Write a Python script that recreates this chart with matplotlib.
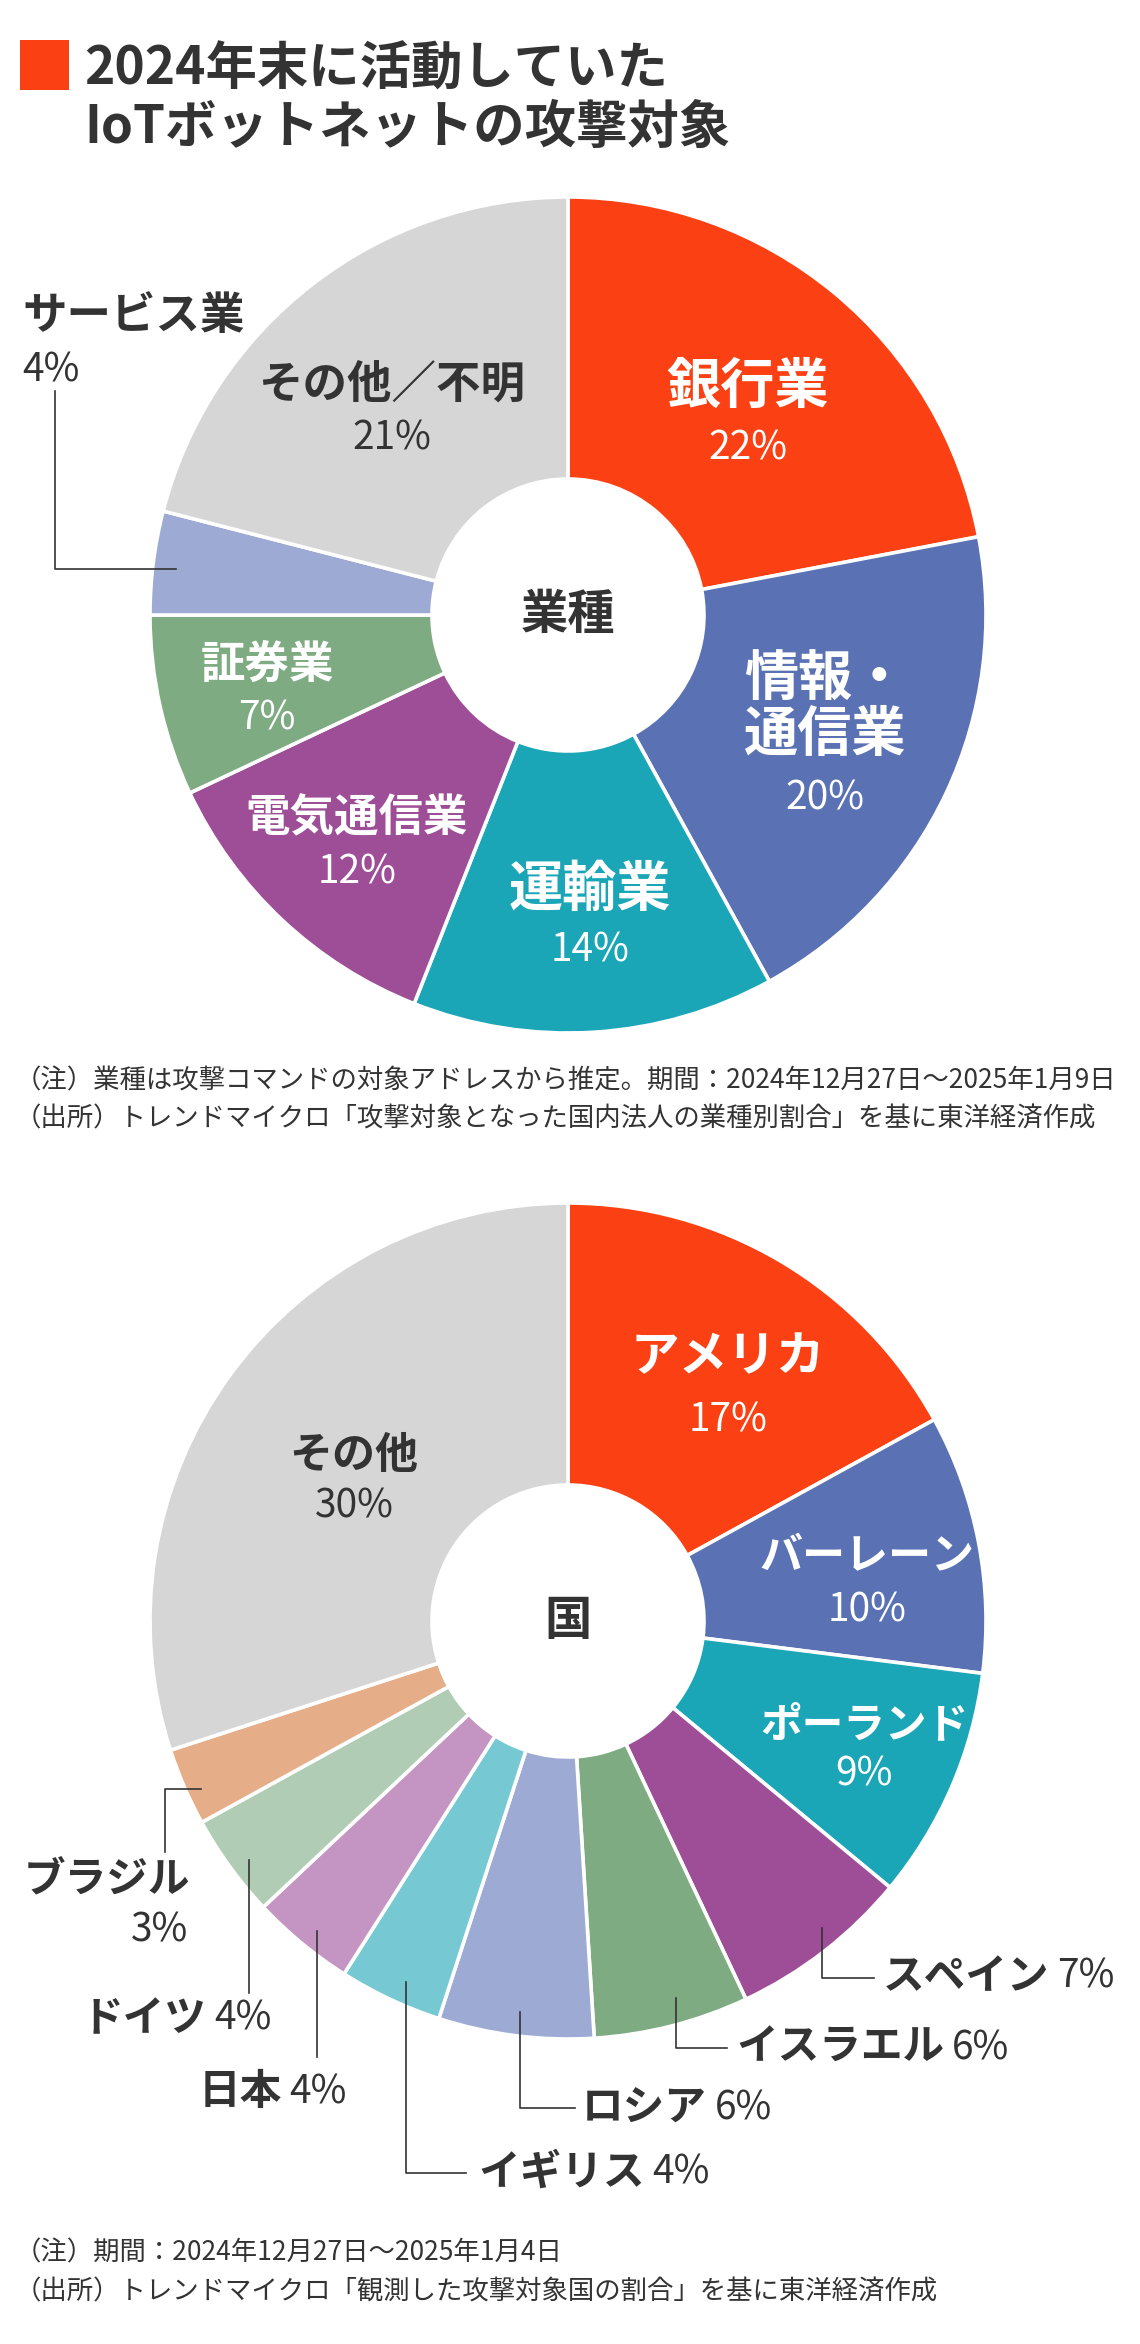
import matplotlib
matplotlib.use("Agg")
import matplotlib.pyplot as plt
from matplotlib.patches import Rectangle

plt.rcParams['font.family'] = ['Noto Sans CJK JP', 'DejaVu Sans']

W, H = 1140, 2344
DARK = '#333333'

# 業種データ
industry_names = ['銀行業', '情報・\n通信業', '運輸業', '電気通信業', '証券業', 'サービス業', 'その他／不明']
industry_share = [22, 20, 14, 12, 7, 4, 21]
industry_colors = ['#FB4113', '#5A71B4', '#1AA6B7', '#9D4E96', '#7EAB82', '#9DAAD3', '#D6D6D6']

# 国データ
country_names = ['アメリカ', 'バーレーン', 'ポーランド', 'スペイン', 'イスラエル', 'ロシア',
                 'イギリス', '日本', 'ドイツ', 'ブラジル', 'その他']
country_share = [17, 10, 9, 7, 6, 6, 4, 4, 4, 3, 30]
country_colors = ['#FB4113', '#5A71B4', '#1AA6B7', '#9D4E96', '#7EAB82', '#9DAAD3',
                  '#76C9D3', '#C495C2', '#B0CCB4', '#E6AE88', '#D6D6D6']

R_OUT, R_IN = 418, 136
CX = 568
CY1, CY2 = 615, 1621


def Y(v):
    # 上からのピクセル位置 -> データ座標
    return H - v


fig = plt.figure(figsize=(W / 100, H / 100), dpi=100)
ax = fig.add_axes([0, 0, 1, 1])

wp = dict(width=R_OUT - R_IN, edgecolor='white', linewidth=2.6)
ax.pie(industry_share, colors=industry_colors, radius=R_OUT, center=(CX, Y(CY1)),
       startangle=90, counterclock=False, wedgeprops=wp)
ax.pie(country_share, colors=country_colors, radius=R_OUT, center=(CX, Y(CY2)),
       startangle=90, counterclock=False, wedgeprops=wp)

ax.set_xlim(0, W)
ax.set_ylim(0, H)
ax.axis('off')

# タイトル
ax.add_patch(Rectangle((20, Y(90)), 49, 50, color='#FB4113', lw=0))
ax.text(84, Y(69), '2024年末に活動していた', fontsize=37, fontweight='bold',
        color=DARK, va='center', ha='left')
ax.text(84, Y(127), 'IoTボットネットの攻撃対象', fontsize=37, fontweight='bold',
        color=DARK, va='center', ha='left')

# 中心ラベル
ax.text(CX, Y(CY1), '業種', fontsize=34, fontweight='bold', color=DARK, ha='center', va='center')
ax.text(CX, Y(CY2), '国', fontsize=34, fontweight='bold', color=DARK, ha='center', va='center')


def inner_label(name, share, x, y_name, y_pct, fs, color):
    ax.text(x, Y(y_name), name, fontsize=fs, fontweight='bold', color=color,
            ha='center', va='center', linespacing=1.0)
    ax.text(x, Y(y_pct), f'{share}%', fontsize=28, color=color, ha='center', va='center')


# 業種ラベル配置 (x, 名前y, %y, 文字サイズ)
ind_pos = [(748, 387, 448, 39), (825, 708, 798, 39), (590, 890, 950, 39),
           (357, 818, 872, 32), (267, 665, 718, 32), None, (392, 385, 439, 32)]
for name, share, color, pos in zip(industry_names, industry_share, industry_colors, ind_pos):
    if pos is None:
        continue
    tc = DARK if color == '#D6D6D6' else 'white'
    inner_label(name, share, pos[0], pos[1], pos[2], pos[3], tc)

# サービス業（外側）
ax.text(22, Y(316), industry_names[5], fontsize=32, fontweight='bold', color=DARK, ha='left', va='center')
ax.text(22, Y(370), f'{industry_share[5]}%', fontsize=28, color=DARK, ha='left', va='center')
ax.plot([55, 55, 176], [Y(391), Y(569), Y(569)], color=DARK, lw=1.2)

# 注記1
ax.text(15, Y(1081), '（注）業種は攻撃コマンドの対象アドレスから推定。期間：2024年12月27日～2025年1月9日',
        fontsize=19, color=DARK, ha='left', va='center')
ax.text(15, Y(1119), '（出所）トレンドマイクロ「攻撃対象となった国内法人の業種別割合」を基に東洋経済作成',
        fontsize=19, color=DARK, ha='left', va='center')

# 国ラベル（内側）
cty_pos = {0: (728, 1357, 1420, 35), 1: (867, 1556, 1610, 31), 2: (864, 1725, 1775, 30),
           10: (354, 1455, 1507, 31)}
for i, pos in cty_pos.items():
    tc = DARK if country_colors[i] == '#D6D6D6' else 'white'
    inner_label(country_names[i], country_share[i], pos[0], pos[1], pos[2], pos[3], tc)


def label_right(i, x, y):
    # 名前を左端xに置き、その右に%
    t = ax.text(x, Y(y), country_names[i], fontsize=30, fontweight='bold', color=DARK,
                ha='left', va='center')
    ax.annotate(f'{country_share[i]}%', xy=(1, 0.5), xycoords=t, xytext=(8, 0),
                textcoords='offset pixels', fontsize=28, color=DARK, ha='left', va='center')


def label_left(i, x, y):
    # %を右端xに置き、その左に名前
    t = ax.text(x, Y(y), f'{country_share[i]}%', fontsize=28, color=DARK, ha='right', va='center')
    ax.annotate(country_names[i], xy=(0, 0.5), xycoords=t, xytext=(-8, 0),
                textcoords='offset pixels', fontsize=30, fontweight='bold', color=DARK,
                ha='right', va='center')


# 外側ラベルと引き出し線
label_right(3, 883, 1977)
ax.plot([822, 822, 874], [Y(1928), Y(1978), Y(1978)], color=DARK, lw=1.2)
label_right(4, 736, 2048)
ax.plot([676, 676, 727], [Y(1998), Y(2048), Y(2048)], color=DARK, lw=1.2)
label_right(5, 582, 2108)
ax.plot([520, 520, 575], [Y(2012), Y(2108), Y(2108)], color=DARK, lw=1.2)
label_right(6, 478, 2173)
ax.plot([406, 406, 466], [Y(1982), Y(2173), Y(2173)], color=DARK, lw=1.2)

label_left(7, 347, 2092)
ax.plot([317, 317], [Y(1931), Y(2057)], color=DARK, lw=1.2)
label_left(8, 272, 2019)
ax.plot([249, 249], [Y(1860), Y(1993)], color=DARK, lw=1.2)

# ブラジル（2行）
ax.text(190, Y(1879), country_names[9], fontsize=30, fontweight='bold', color=DARK, ha='right', va='center')
ax.text(188, Y(1931), f'{country_share[9]}%', fontsize=28, color=DARK, ha='right', va='center')
ax.plot([201, 165, 165], [Y(1789), Y(1789), Y(1852)], color=DARK, lw=1.2)

# 注記2
ax.text(15, Y(2253), '（注）期間：2024年12月27日～2025年1月4日',
        fontsize=19, color=DARK, ha='left', va='center')
ax.text(15, Y(2292), '（出所）トレンドマイクロ「観測した攻撃対象国の割合」を基に東洋経済作成',
        fontsize=19, color=DARK, ha='left', va='center')

fig.savefig('out.png', dpi=100, facecolor='white')
